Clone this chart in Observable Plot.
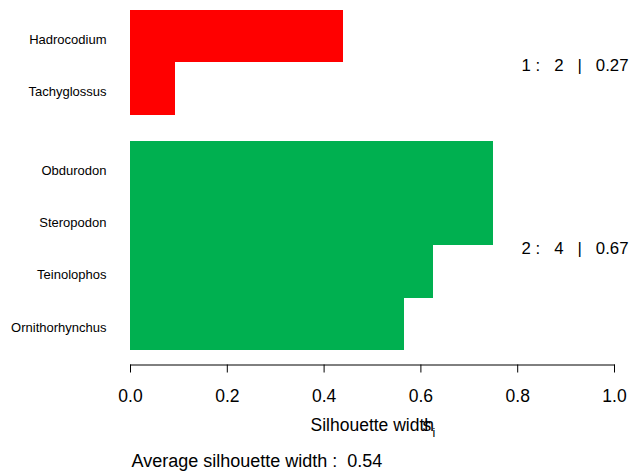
<!DOCTYPE html>
<html><head><meta charset="utf-8">
<script src="https://cdn.jsdelivr.net/npm/d3@7"></script>
<script src="https://cdn.jsdelivr.net/npm/@observablehq/plot@0.6"></script>
<style>html,body{margin:0;padding:0;background:#fff} svg{display:block}</style>
</head><body><div id="chart"></div>
<script>
const names = ["Hadrocodium","Tachyglossus","Obdurodon","Steropodon","Teinolophos","Ornithorhynchus"];
const clusters = [1,1,2,2,2,2];
const widths = [0.44,0.094,0.749,0.749,0.625,0.567];
const clusterIds = [1,2];
const clusterSizes = [2,4];
const clusterAvg = ["0.27","0.67"];
const clusterColors = ["#FF0000","#00B050"];
const avgWidth = "0.54";
const xTicks = [0,0.2,0.4,0.6,0.8,1.0];

const NB = "\u00a0";
let pos = 0; const rows = [];
names.forEach((n,i)=>{
  if (i>0 && clusters[i]!==clusters[i-1]) pos += 0.5;
  rows.push({name:n, cluster:clusters[i], s:widths[i], y1:pos, y2:pos+1, ym:pos+0.5});
  pos += 1;
});
const total = pos;
const clusterRows = clusterIds.map((c,j)=>{
  const r = rows.filter(d=>d.cluster===c);
  return {label: `${c}${NB}:${NB}${NB}${NB}${clusterSizes[j]}${NB}${NB}${NB}|${NB}${NB}${NB}${clusterAvg[j]}`,
          y:(r[0].y1 + r[r.length-1].y2)/2};
});

const font = "'Liberation Sans', Arial, Helvetica, sans-serif";
const chart = Plot.plot({
  width: 633, height: 476,
  marginLeft: 130, marginRight: 19, marginTop: 10, marginBottom: 111.5,
  style: {fontFamily: font, fontSize: "17px", color: "#000", background: "#fff"},
  x: {domain: [0,1]},
  y: {domain: [0,total], range: [10,350], axis: null},
  marks: [
    Plot.rectX(rows, {x1: 0, x2: "s", y1: "y1", y2: "y2", fill: d=>clusterColors[d.cluster-1], inset: 0, shapeRendering: "crispEdges"}),
    Plot.frame({anchor: "bottom", stroke: "#000"}),
    Plot.axisX({ticks: xTicks, tickSize: 8, tickPadding: 17, tickFormat: d3.format(".1f"), label: null, fontSize: 17.5, stroke: "#000"}),
    Plot.text(rows, {x: 0, y: "ym", text: "name", textAnchor: "end", dx: -24, dy: 3, fontSize: 13, fill: "#000"}),
    Plot.text(clusterRows, {x: 1, y: "y", text: "label", textAnchor: "end", dx: 14, dy: 3, fontSize: 16.8, fill: "#000"}),
    Plot.text(["Silhouette width"], {frameAnchor: "bottom-left", text: d=>d, textAnchor: "start", dx: 180, dy: 66, fontSize: 17.5, fill: "#000"}),
    Plot.text(["s"], {frameAnchor: "bottom-left", text: d=>d, textAnchor: "start", dx: 292, dy: 66, fontSize: 17.5, fill: "#000"}),
    Plot.text(["i"], {frameAnchor: "bottom-left", text: d=>d, textAnchor: "start", dx: 302, dy: 72, fontSize: 12.5, fill: "#000"}),
    Plot.text([`Average silhouette width :${NB}${NB}${avgWidth}`], {frameAnchor: "bottom-left", text: d=>d, textAnchor: "start", dx: 1, dy: 102, fontSize: 18, fill: "#000"})
  ]
});
document.getElementById("chart").appendChild(chart);
</script>
</body></html>
